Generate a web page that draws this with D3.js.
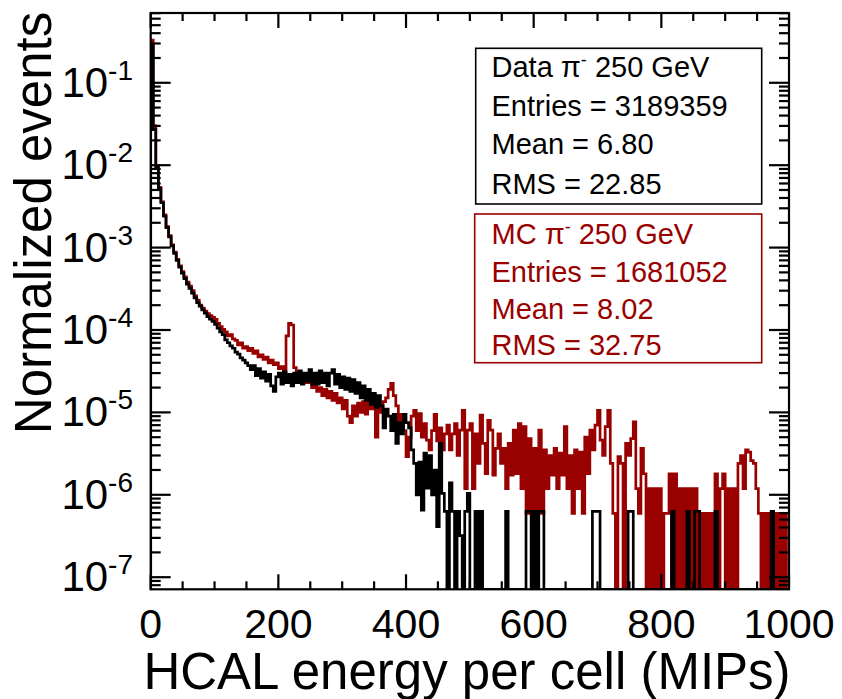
<!DOCTYPE html>
<html>
<head>
<meta charset="utf-8">
<script src="https://cdn.jsdelivr.net/npm/d3@7"></script>
<style>
  html, body { margin: 0; padding: 0; background: #fff; }
  svg { display: block; font-family: "Liberation Sans", Arial, Helvetica, sans-serif; }
</style>
</head>
<body>
<div id="chart"></div>
<script>
// Histogram binning: 250 bins of 4 MIPs from 0 to 1000
const binWidth = 4;
const xDomain = [0, 1000];

// Data pi- 250 GeV, normalized events per bin
const dataValues = [
  0.28, 2.7e-2, 9.5e-3, 5.2e-3, 3.5e-3, 2.4e-3, 1.75e-3, 1.35e-3, 1.05e-3, 8.5e-4,
  7.0e-4, 5.8e-4, 4.9e-4, 4.2e-4, 3.6e-4, 3.2e-4, 2.8e-4, 2.45e-4, 2.15e-4, 1.95e-4,
  1.75e-4, 1.6e-4, 1.45e-4, 1.35e-4, 1.27e-4, 1.17e-4, 1.05e-4, 9.5e-5, 8.8e-5, 7.6e-5,
  7.0e-5, 6.4e-5, 6.0e-5, 5.4e-5, 5.1e-5, 4.6e-5, 4.3e-5, 4.0e-5, 3.7e-5, 3.3e-5,
  3.7e-5, 2.8e-5, 3.4e-5, 2.6e-5, 3.1e-5, 2.4e-5, 2.9e-5, 2.1e-5, 1.8e-5, 2.7e-5,
  3.0e-5, 2.2e-5, 3.1e-5, 2.3e-5, 2.9e-5, 2.1e-5, 3.0e-5, 2.3e-5, 3.2e-5, 2.2e-5,
  3.0e-5, 2.4e-5, 3.3e-5, 2.2e-5, 3.0e-5, 2.2e-5, 3.2e-5, 2.3e-5, 3.0e-5, 2.1e-5,
  3.0e-5, 3.3e-5, 2.2e-5, 2.9e-5, 2.0e-5, 2.7e-5, 1.9e-5, 2.6e-5, 1.8e-5, 2.5e-5,
  1.7e-5, 2.3e-5, 1.5e-5, 2.1e-5, 1.4e-5, 1.9e-5, 1.25e-5, 1.7e-5, 1.15e-5, 1.6e-5,
  1.2e-5, 6.5e-6, 1.1e-5, 9.0e-6, 6.0e-6, 9.5e-6, 4.2e-6, 7.5e-6, 5.5e-6, 9.5e-6,
  7.5e-6, 6.5e-6, 3.5e-6, 2.4e-6, 1.0e-6, 2.5e-6, 6.5e-7, 3.2e-6, 1.2e-6, 3.0e-6,
  1.0e-6, 2.0e-6, 4.1e-7, 4.2e-6, 1.04e-6, 6.3e-7, 0, 1.4e-6, 6.3e-7, 0,
  6.3e-7, 3.2e-7, 0, 6.3e-7, 1.04e-6, 0, 0, 6.3e-7, 0, 6.3e-7,
  0, 0, 0, 0, 0, 0, 0, 0, 0, 6.3e-7,
  0, 0, 0, 0, 0, 0, 0, 6.3e-7, 6.3e-7, 0,
  6.3e-7, 0, 6.3e-7, 6.3e-7, 0, 0, 0, 0, 0, 0,
  0, 0, 0, 0, 0, 0, 0, 0, 0, 0,
  0, 0, 0, 6.3e-7, 6.3e-7, 6.3e-7, 0, 0, 0, 0,
  0, 0, 0, 0, 0, 0, 0, 6.3e-7, 6.3e-7, 0,
  0, 0, 0, 0, 0, 0, 0, 0, 0, 0,
  0, 0, 0, 0, 6.3e-7, 0, 0, 0, 0, 0,
  6.3e-7, 0, 0, 6.3e-7, 6.3e-7, 0, 0, 0, 0, 0,
  0, 6.3e-7, 0, 0, 0, 0, 0, 0, 0, 0,
  0, 0, 0, 0, 0, 0, 0, 0, 0, 0,
  0, 0, 0, 6.3e-7, 0, 0, 0, 0, 0, 0
];

// MC pi- 250 GeV, normalized events per bin
const mcValues = [
  0.33, 3.0e-2, 9.8e-3, 5.4e-3, 3.6e-3, 2.5e-3, 1.8e-3, 1.4e-3, 1.08e-3, 8.8e-4,
  7.2e-4, 6.0e-4, 5.1e-4, 4.4e-4, 3.8e-4, 3.4e-4, 3.0e-4, 2.6e-4, 2.3e-4, 2.0e-4,
  1.85e-4, 1.7e-4, 1.58e-4, 1.5e-4, 1.42e-4, 1.35e-4, 1.2e-4, 1.1e-4, 1.02e-4, 9.5e-5,
  8.5e-5, 8.8e-5, 7.8e-5, 7.5e-5, 6.6e-5, 7.0e-5, 6.0e-5, 6.3e-5, 5.6e-5, 6.0e-5,
  5.2e-5, 5.6e-5, 4.7e-5, 5.0e-5, 4.4e-5, 4.7e-5, 4.0e-5, 4.3e-5, 3.8e-5, 4.0e-5,
  3.4e-5, 3.6e-5, 3.0e-5, 8.5e-5, 1.2e-4, 1.15e-4, 3.5e-5, 2.9e-5, 3.0e-5, 2.6e-5,
  2.8e-5, 2.3e-5, 2.5e-5, 2.0e-5, 2.2e-5, 1.8e-5, 2.0e-5, 1.6e-5, 1.9e-5, 1.5e-5,
  1.8e-5, 1.4e-5, 1.7e-5, 1.3e-5, 1.5e-5, 1.1e-5, 1.4e-5, 9.0e-6, 7.5e-6, 1.2e-5,
  9.0e-6, 1.3e-5, 1.0e-5, 1.35e-5, 9.5e-6, 1.4e-5, 1.1e-5, 1.3e-5, 5.0e-6, 1.2e-5,
  1.0e-5, 1.35e-5, 1.5e-5, 1.9e-5, 2.25e-5, 1.6e-5, 1.2e-5, 8.0e-6, 9.5e-6, 6.0e-6,
  2.9e-6, 5.0e-6, 9.0e-6, 1.06e-5, 6.0e-6, 9.7e-6, 5.0e-6, 7.3e-6, 4.6e-6, 3.5e-6,
  6.0e-6, 9.5e-6, 4.5e-6, 6.5e-6, 3.5e-6, 5.5e-6, 7.0e-6, 3.5e-6, 5.5e-6, 7.3e-6,
  3.0e-6, 6.1e-6, 1.06e-5, 1.19e-6, 6.1e-6, 7.3e-6, 1.19e-6, 5.5e-6, 2.4e-6, 9.25e-6,
  4.2e-6, 1.8e-6, 8.0e-6, 6.1e-6, 1.73e-6, 3.65e-6, 5.5e-6, 2.4e-6, 3.65e-6, 1.19e-6,
  4.2e-6, 1.73e-6, 6.1e-6, 1.8e-6, 7.3e-6, 1.19e-6, 6.7e-6, 5.95e-7, 4.8e-6, 5.95e-7,
  3.65e-6, 5.95e-7, 6.1e-6, 5.95e-7, 3.5e-6, 1.19e-6, 3.0e-6, 1.73e-6, 3.65e-6, 1.19e-6,
  3.2e-6, 1.73e-6, 6.7e-6, 1.19e-6, 3.0e-6, 5.95e-7, 3.5e-6, 1.19e-6, 3.3e-6, 5.95e-7,
  5.0e-6, 1.8e-6, 6.1e-6, 3.5e-6, 7.0e-6, 1.06e-5, 4.6e-6, 3.0e-6, 6.7e-6, 1.06e-5,
  2.4e-6, 5.95e-7, 0, 2.9e-6, 2.4e-6, 0, 4.2e-6, 3.0e-6, 4.8e-6, 7.7e-6,
  1.19e-6, 5.95e-7, 3.65e-6, 1.8e-6, 0, 1.19e-6, 0, 1.19e-6, 0, 1.19e-6,
  0, 5.95e-7, 5.95e-7, 1.8e-6, 0, 1.8e-6, 0, 1.19e-6, 0, 1.19e-6,
  0, 1.19e-6, 0, 1.19e-6, 0, 5.95e-7, 0, 5.95e-7, 0, 5.95e-7,
  0, 1.8e-6, 0, 1.19e-6, 1.8e-6, 0, 1.19e-6, 0, 1.19e-6, 0,
  2.4e-6, 3.0e-6, 1.19e-6, 3.5e-6, 3.3e-6, 2.6e-6, 2.4e-6, 1.19e-6, 5.95e-7, 0,
  5.95e-7, 0, 5.95e-7, 0, 5.95e-7, 0, 5.95e-7, 0, 5.95e-7, 0
];

// Axis ticks
const xTickLabels = [0, 200, 400, 600, 800, 1000];
const xMinorStep = 50;
const yDecadeExponents = [-7, -6, -5, -4, -3, -2, -1];

// Statistics boxes
const dataTitle = ["Data ", "\u03C0", "-", " 250 GeV"];
const dataStats = ["Entries = 3189359", "Mean = 6.80", "RMS = 22.85"];
const mcTitle = ["MC ", "\u03C0", "-", " 250 GeV"];
const mcStats = ["Entries = 1681052", "Mean = 8.02", "RMS = 32.75"];

const W = 842, H = 699;
const frame = { left: 150.7, right: 789, top: 13, bottom: 589.3 };
const mcColor = "#990000";

const svg = d3.select("#chart").append("svg")
  .attr("width", W).attr("height", H)
  .attr("viewBox", `0 0 ${W} ${H}`);

const x = d3.scaleLinear().domain(xDomain).range([frame.left, frame.right]);
const y = d3.scaleLog().domain([7.13e-8, 0.703]).range([frame.bottom, frame.top]);

svg.append("defs").append("clipPath").attr("id", "plotClip")
  .append("rect")
  .attr("x", frame.left).attr("y", frame.top)
  .attr("width", frame.right - frame.left)
  .attr("height", frame.bottom - frame.top);

// Step outline of a histogram; empty bins fall to the bottom of the frame
function histPath(values) {
  const pts = [[x(0), frame.bottom]];
  values.forEach((v, i) => {
    const yy = v > 0 ? y(v) : frame.bottom;
    pts.push([x(i * binWidth), yy], [x((i + 1) * binWidth), yy]);
  });
  pts.push([x(values.length * binWidth), frame.bottom]);
  return d3.line()(pts);
}

const plot = svg.append("g").attr("clip-path", "url(#plotClip)");
plot.append("path").attr("d", histPath(mcValues))
  .attr("fill", "none").attr("stroke", mcColor).attr("stroke-width", 2.7)
  .attr("stroke-linejoin", "miter");
plot.append("path").attr("d", histPath(dataValues))
  .attr("fill", "none").attr("stroke", "#000").attr("stroke-width", 2.7)
  .attr("stroke-linejoin", "miter");

// Frame
svg.append("rect")
  .attr("x", frame.left).attr("y", frame.top)
  .attr("width", frame.right - frame.left)
  .attr("height", frame.bottom - frame.top)
  .attr("fill", "none").attr("stroke", "#000").attr("stroke-width", 2.2);

const ticks = svg.append("g").attr("stroke", "#000").attr("stroke-width", 2.2);

// X ticks on bottom and top edges
d3.range(xDomain[0], xDomain[1] + 1, xMinorStep).forEach(v => {
  const major = v % 200 === 0;
  const len = major ? 15 : 8;
  const xx = x(v);
  ticks.append("line").attr("x1", xx).attr("x2", xx)
    .attr("y1", frame.bottom).attr("y2", frame.bottom - len);
  ticks.append("line").attr("x1", xx).attr("x2", xx)
    .attr("y1", frame.top).attr("y2", frame.top + len);
});

// Y ticks (log decades with 2..9 subdivisions) on left and right edges
const [yMin, yMax] = y.domain();
const yTicks = [];
for (let e = -8; e <= 0; e++) {
  for (let k = 1; k <= 9; k++) {
    const v = k * Math.pow(10, e);
    if (v >= yMin && v <= yMax) yTicks.push({ v, major: k === 1 });
  }
}
yTicks.forEach(t => {
  const len = t.major ? 20 : 10;
  const yy = y(t.v);
  ticks.append("line").attr("x1", frame.left).attr("x2", frame.left + len)
    .attr("y1", yy).attr("y2", yy);
  ticks.append("line").attr("x1", frame.right).attr("x2", frame.right - len)
    .attr("y1", yy).attr("y2", yy);
});

// X tick labels
svg.append("g").selectAll("text").data(xTickLabels).join("text")
  .attr("x", d => x(d)).attr("y", 638)
  .attr("text-anchor", "middle")
  .attr("font-size", 41).attr("fill", "#000")
  .text(d => d);

// Y tick labels as powers of ten
const yLab = svg.append("g").selectAll("text").data(yDecadeExponents).join("text")
  .attr("x", 133).attr("y", d => y(Math.pow(10, d)) + 14)
  .attr("text-anchor", "end").attr("font-size", 42).attr("fill", "#000");
yLab.append("tspan").text("10");
yLab.append("tspan").attr("font-size", 28).attr("dy", -17).text(d => d);

// Axis titles
svg.append("text")
  .attr("x", 467).attr("y", 689)
  .attr("text-anchor", "middle").attr("font-size", 51).attr("fill", "#000")
  .text("HCAL energy per cell (MIPs)");
svg.append("text")
  .attr("transform", "translate(51,223) rotate(-90)")
  .attr("text-anchor", "middle").attr("font-size", 51).attr("fill", "#000")
  .text("Normalized events");

// Statistics boxes
function statBox(box, color, title, stats, baselines) {
  const g = svg.append("g");
  g.append("rect")
    .attr("x", box.x).attr("y", box.y).attr("width", box.w).attr("height", box.h)
    .attr("fill", "#fff").attr("stroke", color).attr("stroke-width", 1.6);
  const t = g.append("text").attr("x", 491.5).attr("y", baselines[0])
    .attr("font-size", 29).attr("fill", color);
  t.append("tspan").text(title[0]);
  t.append("tspan").text(title[1]);
  t.append("tspan").attr("font-size", 18).attr("dy", -11).text(title[2]);
  t.append("tspan").attr("dy", 11).text(title[3]);
  stats.forEach((s, i) => {
    g.append("text").attr("x", 491.5).attr("y", baselines[i + 1])
      .attr("font-size", 29).attr("fill", color).text(s);
  });
}
statBox({ x: 475.7, y: 48.3, w: 286, h: 155.7 }, "#000", dataTitle, dataStats, [77, 116, 154, 194]);
statBox({ x: 474.7, y: 214, w: 287, h: 148.7 }, mcColor, mcTitle, mcStats, [244, 281.5, 318.5, 355]);
</script>
</body>
</html>
